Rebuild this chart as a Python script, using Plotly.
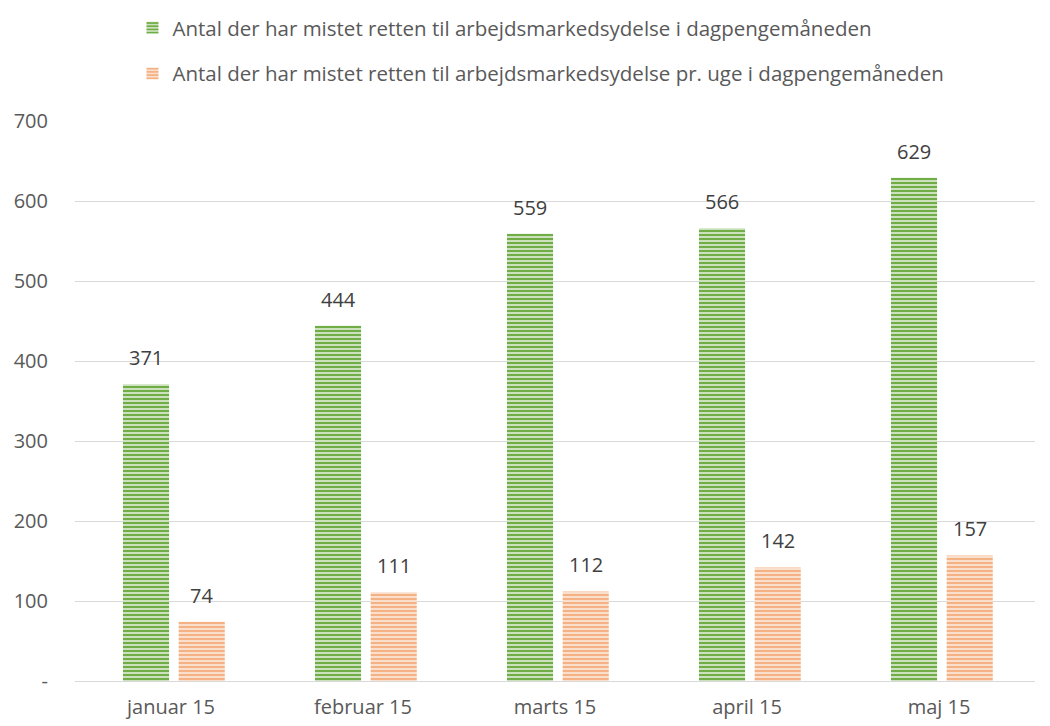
import plotly.graph_objects as go

categories = ["januar 15", "februar 15", "marts 15", "april 15", "maj 15"]
series1_name = "Antal der har mistet retten til arbejdsmarkedsydelse i dagpengemåneden"
series1 = [371, 444, 559, 566, 629]
series2_name = "Antal der har mistet retten til arbejdsmarkedsydelse pr. uge i dagpengemåneden"
series2 = [74, 111, 112, 142, 157]
ytick_vals = [0, 100, 200, 300, 400, 500, 600, 700]
ytick_text = ["-", "100", "200", "300", "400", "500", "600", "700"]

GREEN = "#70AD47"
GREEN_BG = "#E2EFD9"
ORANGE = "#F4B183"
ORANGE_BG = "#FCEBDF"
FONT = "Open Sans"

BW = 0.24
OFF1 = -0.25
OFF2 = 0.04

fig = go.Figure()
fig.add_trace(go.Bar(
    x=categories, y=series1, name=series1_name, width=BW, offset=OFF1,
    marker=dict(color=GREEN_BG, line=dict(width=0),
                pattern=dict(shape="-", fgcolor=GREEN, bgcolor=GREEN_BG, size=4, solidity=0.6, fillmode="replace")),
    legendgroup="a",
))
fig.add_trace(go.Bar(
    x=categories, y=series2, name=series2_name, width=BW, offset=OFF2,
    marker=dict(color=ORANGE_BG, line=dict(width=0),
                pattern=dict(shape="-", fgcolor=ORANGE, bgcolor=ORANGE_BG, size=4, solidity=0.6, fillmode="replace")),
    legendgroup="b",
))

annotations = []
for i, (a, b) in enumerate(zip(series1, series2)):
    annotations.append(dict(x=i + OFF1 + BW / 2, y=a, xref="x", yref="y", text=str(a),
                            showarrow=False, yanchor="bottom", yshift=11,
                            font=dict(family=FONT, size=20, color="#404040")))
    annotations.append(dict(x=i + OFF2 + BW / 2, y=b, xref="x", yref="y", text=str(b),
                            showarrow=False, yanchor="bottom", yshift=11,
                            font=dict(family=FONT, size=20, color="#404040")))

fig.update_layout(
    width=1042, height=718,
    paper_bgcolor="white", plot_bgcolor="white",
    margin=dict(l=67, r=15, t=113, b=45, autoexpand=False),
    font=dict(family=FONT, size=20, color="#595959"),
    barmode="group",
    annotations=annotations,
    legend=dict(orientation="v", x=0.5115, xanchor="center", xref="container",
                y=1.0, yanchor="top", yref="container",
                traceorder="grouped", tracegroupgap=16,
                font=dict(family=FONT, size=20.5, color="#595959"),
                itemwidth=30),
    showlegend=True,
)
fig.update_xaxes(type="category", showgrid=False, showline=True, linecolor="#D9D9D9", linewidth=1,
                 ticks="", ticklabelstandoff=8, tickfont=dict(family=FONT, size=20, color="#595959"))
fig.update_yaxes(range=[0, 700], tickvals=ytick_vals, ticktext=ytick_text, showgrid=True,
                 gridcolor="#D9D9D9", gridwidth=1, zeroline=False, showline=False,
                 ticks="", ticklabelstandoff=26,
                 tickfont=dict(family=FONT, size=20, color="#595959"))

fig.write_html("out.html")
